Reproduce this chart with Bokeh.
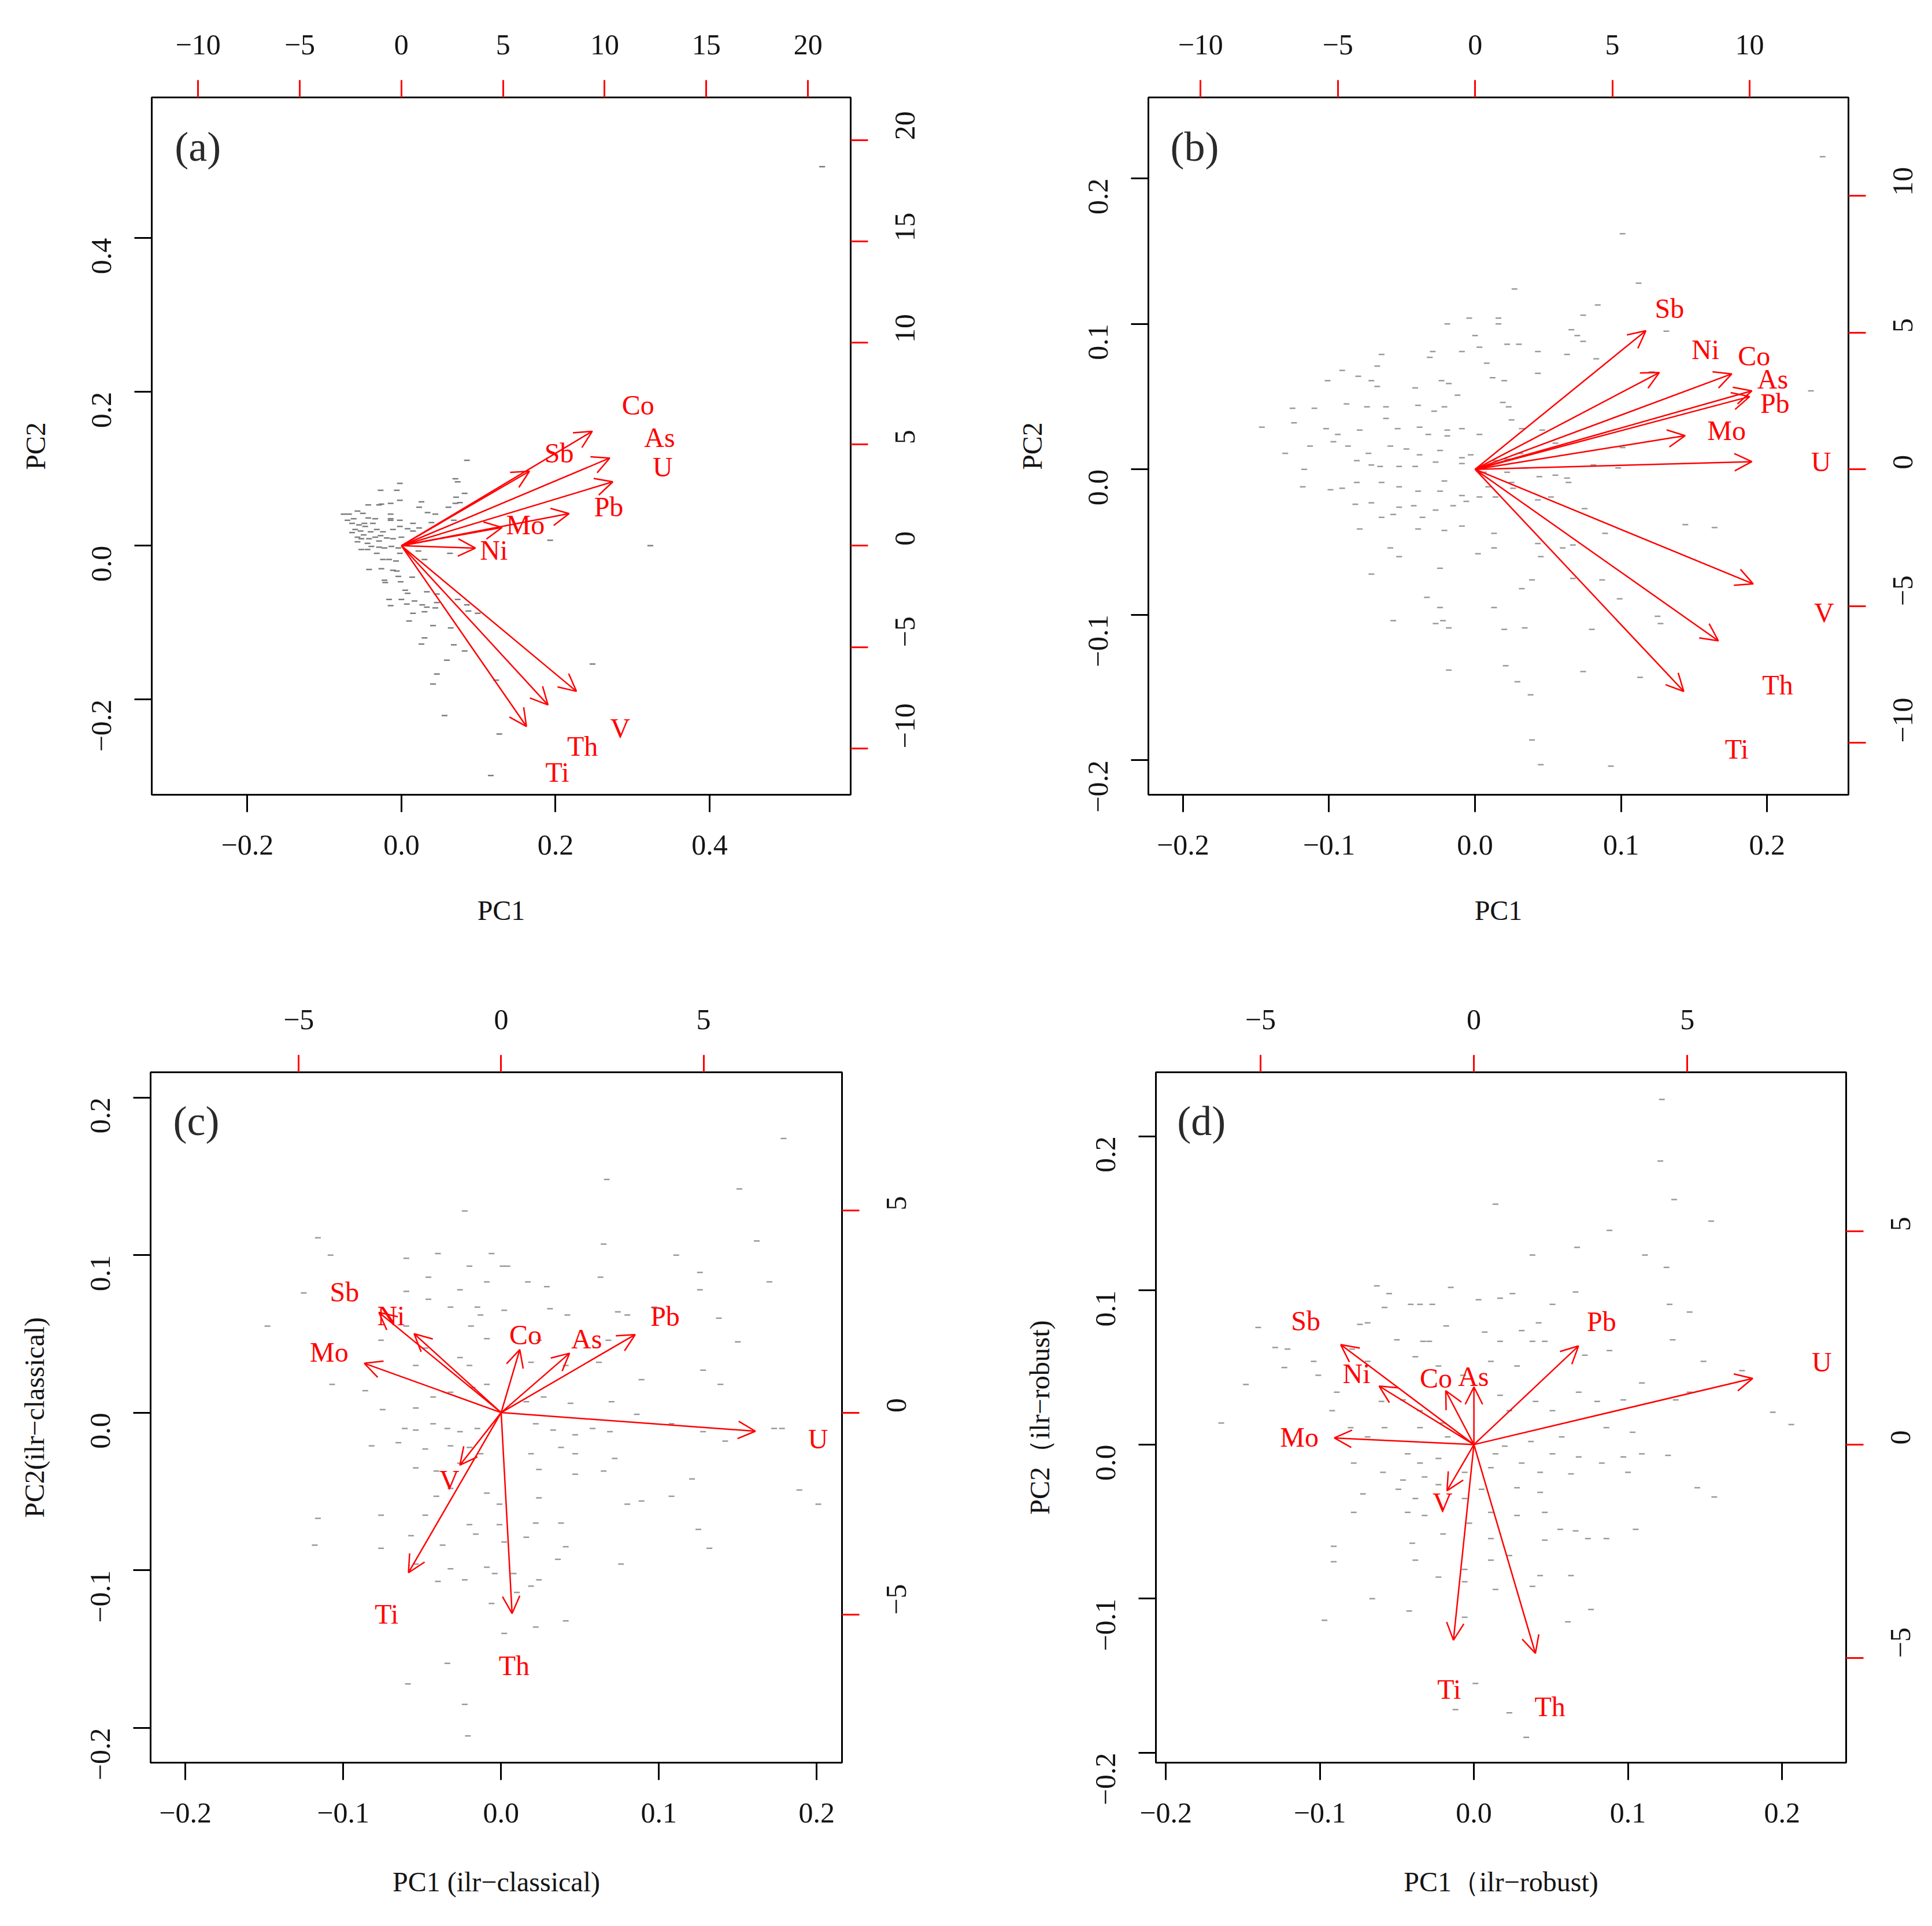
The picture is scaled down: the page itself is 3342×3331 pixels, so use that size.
import math
from bokeh.plotting import figure
from bokeh.models import (Range1d, LinearAxis, FixedTicker, CustomJSTickFormatter,
                          Arrow, OpenHead, ColumnDataSource, Label)
from bokeh.layouts import column, row
from bokeh.embed import file_html
from bokeh.resources import INLINE
from bokeh.core.properties import value

FONT = "Liberation Serif"
RED = "#ff0000"

# ---------------- data ----------------
# panel (a) PC1/PC2
lim_a = [-0.324, 0.583]
load_lim_a = [-12.28, 22.10]
score_ticks_a = [-0.2, 0.0, 0.2, 0.4]
load_ticks_a = [-10, -5, 0, 5, 10, 15, 20]
elements_a = ["Sb", "Co", "As", "U", "Pb", "Mo", "Ni", "V", "Th", "Ti"]
label_x_a = [7.76, 11.64, 12.70, 12.85, 10.20, 6.10, 4.55, 10.76, 8.91, 7.67]
label_y_a = [4.58, 6.94, 5.33, 3.88, 1.92, 1.02, -0.21, -9.00, -9.88, -11.18]
arrow_x_a = [6.30, 9.39, 10.25, 10.40, 8.25, 4.95, 3.64, 8.61, 7.21, 6.15]
arrow_y_a = [3.67, 5.64, 4.32, 3.15, 1.58, 0.90, -0.12, -7.18, -7.85, -8.91]
scores_x_a = [0.085, -0.002, -0.027, -0.006, 0.070, 0.073, 0.082, 0.071, 0.026, -0.002,
              -0.014, -0.026, -0.043, -0.029, 0.061, 0.070, 0.076, 0.023, 0.034, 0.044,
              -0.014, -0.068, -0.075, -0.057, -0.050, -0.043, -0.034, -0.014, -0.002, 0.015,
              0.015, 0.008, 0.023, 0.039, 0.068, -0.064, -0.055, -0.048, -0.070, -0.060,
              -0.053, -0.040, -0.032, -0.024, -0.011, -0.002, -0.057, -0.049, -0.042, -0.034,
              -0.027, -0.019, -0.011, 0.000, -0.057, -0.044, -0.039, -0.029, -0.022, -0.013,
              -0.004, -0.052, -0.032, -0.024, -0.016, -0.007, -0.002, 0.022, 0.030, 0.063,
              0.193, -0.042, -0.026, -0.011, -0.006, -0.004, 0.014, -0.022, -0.021, -0.001,
              0.005, 0.008, -0.016, 0.000, 0.007, 0.017, -0.014, 0.027, 0.033, 0.044,
              0.015, 0.030, 0.046, 0.033, 0.046, 0.073, 0.085, 0.087, 0.099, 0.010,
              0.041, 0.064, 0.030, 0.026, 0.068, 0.082, 0.059, 0.046, 0.041, 0.123,
              0.248, 0.056, 0.127, 0.116, -0.062, -0.047, -0.037, -0.029, -0.044, -0.014,
              -0.064, -0.052, 0.546, 0.323]
scores_y_a = [0.111, 0.081, 0.072, 0.072, 0.087, 0.083, 0.068, 0.063, 0.057, 0.059,
              0.055, 0.054, 0.053, 0.053, 0.050, 0.055, 0.056, 0.050, 0.043, 0.041,
              0.041, 0.041, 0.041, 0.045, 0.042, 0.036, 0.035, 0.035, 0.033, 0.029,
              0.019, 0.022, 0.023, 0.030, 0.033, 0.029, 0.027, 0.029, 0.033, 0.021,
              0.019, 0.018, 0.021, 0.018, 0.021, 0.025, 0.011, 0.014, 0.009, 0.011,
              0.013, 0.010, 0.009, 0.011, 0.005, 0.003, -0.001, -0.002, -0.003, -0.001,
              -0.003, -0.005, -0.010, -0.018, -0.018, -0.020, -0.010, -0.007, -0.018, -0.010,
              0.007, -0.031, -0.030, -0.032, -0.033, -0.040, -0.041, -0.045, -0.048, -0.047,
              -0.058, -0.062, -0.070, -0.070, -0.076, -0.072, -0.078, -0.077, -0.080, -0.081,
              -0.088, -0.086, -0.074, -0.060, -0.063, -0.070, -0.077, -0.085, -0.088, -0.098,
              -0.104, -0.107, -0.120, -0.128, -0.129, -0.137, -0.149, -0.167, -0.180, -0.175,
              -0.154, -0.221, -0.245, -0.299, 0.035, 0.025, 0.029, 0.006, -0.005, 0.033,
              0.017, 0.009, 0.493, 0.000]

# panel (b) PC1/PC2
lim_b = [-0.2237, 0.2557]
load_lim_b = [-11.90, 13.60]
score_ticks_b = [-0.2, -0.1, 0.0, 0.1, 0.2]
load_ticks_b = [-10, -5, 0, 5, 10]
elements_b = ["Sb", "Ni", "Co", "As", "Pb", "Mo", "U", "V", "Th", "Ti"]
label_x_b = [7.08, 8.39, 10.16, 10.84, 10.92, 9.16, 12.60, 12.71, 11.02, 9.53]
label_y_b = [5.88, 4.38, 4.14, 3.31, 2.42, 1.43, 0.28, -5.24, -7.89, -10.23]
arrow_x_b = [6.22, 6.71, 9.35, 10.08, 10.00, 7.65, 10.08, 10.13, 8.86, 7.60]
arrow_y_b = [5.07, 3.54, 3.49, 2.87, 2.66, 1.23, 0.28, -4.19, -6.27, -8.12]
scores_x_b = [0.238, 0.101, 0.027, 0.112, 0.084, 0.074, -0.004, 0.016, -0.019, 0.000,
              0.016, 0.066, 0.131, 0.070, 0.074, 0.022, 0.030, 0.003, -0.029, -0.064,
              -0.009, 0.043, 0.063, 0.083, -0.031, 0.008, -0.067, -0.091, -0.101, -0.080,
              -0.071, -0.067, -0.023, -0.018, -0.012, -0.041, 0.012, 0.020, 0.043, 0.121,
              0.230, -0.125, -0.110, -0.088, -0.074, -0.061, -0.039, -0.028, -0.021, 0.019,
              0.023, -0.146, -0.124, -0.102, -0.094, -0.079, -0.061, -0.053, -0.038, -0.032,
              -0.019, -0.019, -0.009, 0.003, 0.025, 0.032, 0.046, -0.130, -0.113, -0.097,
              -0.087, -0.073, -0.058, -0.047, -0.038, -0.024, -0.009, -0.003, 0.014, 0.022,
              0.031, 0.055, 0.101, -0.117, -0.081, -0.071, -0.065, -0.052, -0.041, -0.027,
              -0.021, -0.009, 0.006, 0.022, 0.034, 0.055, 0.063, 0.081, 0.098, -0.118,
              -0.099, -0.091, -0.081, -0.064, -0.052, -0.039, -0.024, -0.009, 0.009, 0.025,
              0.044, 0.064, -0.082, -0.071, -0.056, -0.052, -0.042, -0.036, -0.027, -0.015,
              -0.006, 0.003, 0.014, 0.026, 0.043, 0.052, 0.075, 0.144, 0.164, -0.079,
              -0.064, -0.039, -0.021, -0.009, 0.013, 0.043, 0.060, 0.067, 0.089, -0.071,
              -0.058, -0.052, -0.024, 0.002, 0.013, 0.045, 0.067, 0.087, 0.099, 0.032,
              -0.033, -0.024, 0.013, 0.039, -0.056, -0.027, -0.018, -0.022, 0.020, 0.034,
              0.080, 0.125, 0.127, -0.018, 0.021, 0.074, 0.029, 0.038, 0.113, 0.039,
              0.045, 0.093]
scores_y_b = [0.215, 0.162, 0.124, 0.128, 0.113, 0.106, 0.104, 0.104, 0.100, 0.092,
              0.100, 0.096, 0.095, 0.092, 0.088, 0.086, 0.086, 0.084, 0.081, 0.079,
              0.081, 0.081, 0.079, 0.076, 0.077, 0.073, 0.071, 0.068, 0.061, 0.064,
              0.061, 0.057, 0.061, 0.059, 0.051, 0.056, 0.063, 0.061, 0.066, 0.067,
              0.054, 0.042, 0.042, 0.045, 0.043, 0.043, 0.044, 0.040, 0.043, 0.046,
              0.043, 0.029, 0.032, 0.028, 0.024, 0.027, 0.035, 0.028, 0.029, 0.024,
              0.027, 0.023, 0.028, 0.024, 0.034, 0.028, 0.027, 0.011, 0.016, 0.019,
              0.016, 0.011, 0.016, 0.014, 0.010, 0.013, 0.008, 0.010, 0.006, 0.007,
              0.011, 0.018, 0.015, 0.000, 0.006, 0.003, 0.002, 0.002, 0.002, 0.005,
              -0.008, 0.004, -0.002, -0.002, 0.001, -0.004, -0.006, 0.003, 0.001, -0.012,
              -0.014, -0.013, -0.009, -0.009, -0.012, -0.015, -0.015, -0.018, -0.012, -0.009,
              -0.005, -0.009, -0.024, -0.023, -0.031, -0.026, -0.025, -0.033, -0.028, -0.025,
              -0.022, -0.019, -0.019, -0.013, -0.021, -0.019, -0.027, -0.038, -0.040, -0.041,
              -0.033, -0.041, -0.042, -0.039, -0.044, -0.051, -0.054, -0.052, -0.044, -0.072,
              -0.054, -0.060, -0.068, -0.058, -0.054, -0.060, -0.075, -0.076, -0.089, -0.082,
              -0.088, -0.095, -0.095, -0.076, -0.104, -0.106, -0.109, -0.104, -0.110, -0.109,
              -0.110, -0.101, -0.106, -0.138, -0.135, -0.139, -0.146, -0.155, -0.143, -0.186,
              -0.203, -0.204]

# panel (c) ilr-classical
lim_c = [-0.222, 0.216]
load_lim_c = [-8.66, 8.42]
score_ticks_c = [-0.2, -0.1, 0.0, 0.1, 0.2]
load_ticks_c = [-5, 0, 5]
elements_c = ["Sb", "Ni", "Mo", "Co", "As", "Pb", "U", "V", "Ti", "Th"]
label_x_c = [-3.87, -2.72, -4.25, 0.60, 2.11, 4.05, 7.83, -1.28, -2.83, 0.32]
label_y_c = [2.99, 2.40, 1.49, 1.93, 1.82, 2.39, -0.65, -1.66, -4.99, -6.25]
arrow_x_c = [-3.02, -2.15, -3.38, 0.46, 1.69, 3.31, 6.28, -1.02, -2.29, 0.27]
arrow_y_c = [2.48, 1.95, 1.22, 1.56, 1.47, 1.93, -0.46, -1.30, -3.96, -4.97]
scores_x_c = [0.179, 0.067, 0.151, -0.023, -0.116, 0.065, 0.162, -0.108, -0.060, -0.040,
              -0.006, 0.111, -0.020, 0.001, 0.004, -0.046, -0.009, 0.017, 0.063, 0.126,
              0.170, -0.125, -0.060, -0.046, -0.026, 0.029, 0.126, -0.032, -0.015, 0.002,
              0.031, 0.097, 0.074, 0.080, -0.148, -0.060, -0.013, -0.019, 0.042, 0.138,
              -0.076, -0.048, -0.009, 0.024, 0.068, 0.150, -0.107, -0.086, -0.054, -0.026,
              -0.020, 0.019, 0.041, 0.062, 0.089, 0.128, 0.139, -0.075, -0.054, -0.043,
              -0.032, -0.018, -0.009, 0.016, 0.027, 0.044, 0.070, 0.086, 0.108, 0.128,
              0.173, 0.178, -0.061, -0.054, -0.043, -0.034, -0.026, -0.015, 0.022, 0.033,
              0.047, 0.058, 0.069, 0.142, -0.082, -0.065, -0.048, -0.032, -0.020, -0.013,
              0.019, 0.038, 0.047, 0.072, -0.054, -0.041, -0.026, 0.024, 0.047, 0.065,
              0.121, 0.189, 0.201, -0.032, -0.041, -0.009, -0.001, 0.024, 0.080, 0.089,
              0.108, -0.116, -0.076, -0.048, -0.020, -0.001, 0.022, 0.038, 0.125, -0.118,
              -0.076, -0.057, -0.037, -0.016, 0.002, 0.016, 0.041, 0.076, 0.132, -0.054,
              -0.032, -0.009, -0.004, 0.008, 0.024, 0.036, -0.040, -0.023, 0.010, 0.019,
              -0.006, 0.022, 0.041, 0.002, -0.034, -0.059, -0.023, -0.021]
scores_y_c = [0.174, 0.148, 0.142, 0.128, 0.111, 0.107, 0.109, 0.100, 0.098, 0.101,
              0.101, 0.100, 0.093, 0.093, 0.093, 0.086, 0.083, 0.083, 0.086, 0.089,
              0.083, 0.076, 0.077, 0.072, 0.078, 0.080, 0.078, 0.067, 0.067, 0.065,
              0.066, 0.067, 0.064, 0.062, 0.055, 0.055, 0.062, 0.055, 0.062, 0.060,
              0.046, 0.041, 0.047, 0.046, 0.046, 0.045, 0.018, 0.014, 0.030, 0.035,
              0.030, 0.032, 0.030, 0.032, 0.021, 0.027, 0.018, 0.002, 0.003, 0.010,
              0.013, 0.016, 0.018, 0.007, 0.010, 0.006, 0.007, -0.001, -0.007, -0.012,
              -0.010, -0.010, -0.010, -0.011, -0.007, -0.010, -0.012, -0.010, -0.007, -0.011,
              -0.014, -0.010, -0.012, -0.018, -0.021, -0.019, -0.023, -0.021, -0.022, -0.026,
              -0.026, -0.022, -0.026, -0.029, -0.035, -0.037, -0.032, -0.036, -0.039, -0.037,
              -0.042, -0.049, -0.058, -0.048, -0.053, -0.051, -0.058, -0.054, -0.058, -0.056,
              -0.053, -0.067, -0.065, -0.065, -0.071, -0.071, -0.070, -0.070, -0.074, -0.084,
              -0.086, -0.078, -0.084, -0.077, -0.082, -0.079, -0.085, -0.096, -0.086, -0.096,
              -0.099, -0.098, -0.102, -0.102, -0.106, -0.093, -0.107, -0.106, -0.114, -0.110,
              -0.121, -0.136, -0.132, -0.140, -0.159, -0.172, -0.185, -0.205]

# panel (d) ilr-robust
lim_d = [-0.2064, 0.2416]
load_lim_d = [-7.45, 8.72]
score_ticks_d = [-0.2, -0.1, 0.0, 0.1, 0.2]
load_ticks_d = [-5, 0, 5]
elements_d = ["Sb", "Ni", "Co", "As", "Pb", "U", "Mo", "V", "Ti", "Th"]
label_x_d = [-3.94, -2.75, -0.89, -0.01, 2.99, 8.15, -4.09, -0.735, -0.58, 1.78]
label_y_d = [2.90, 1.66, 1.56, 1.60, 2.88, 1.93, 0.17, -1.35, -5.73, -6.13]
arrow_x_d = [-3.12, -2.22, -0.66, 0.00, 2.45, 6.53, -3.27, -0.63, -0.48, 1.44]
arrow_y_d = [2.34, 1.37, 1.26, 1.35, 2.31, 1.55, 0.155, -1.08, -4.58, -4.89]
scores_x_d = [0.122, 0.121, 0.130, 0.014, 0.154, 0.088, 0.067, 0.038, 0.111, 0.125,
              -0.063, -0.015, -0.055, 0.066, 0.025, 0.127, 0.140, -0.041, -0.035, -0.027,
              -0.058, 0.003, 0.017, 0.051, -0.074, -0.069, -0.050, -0.033, -0.029, -0.018,
              0.007, 0.031, 0.042, 0.046, 0.017, 0.088, 0.129, -0.140, -0.129, -0.121,
              -0.123, -0.104, -0.101, -0.148, -0.079, -0.069, -0.038, -0.023, -0.007, 0.011,
              0.028, 0.038, 0.072, 0.149, 0.174, 0.194, 0.206, -0.164, -0.089, -0.060,
              -0.046, -0.035, -0.020, 0.017, 0.023, 0.040, 0.051, 0.068, 0.080, 0.097,
              0.109, 0.131, 0.140, -0.118, -0.092, -0.080, -0.069, -0.058, -0.035, -0.017,
              0.020, 0.037, 0.057, 0.086, 0.103, -0.078, -0.043, -0.035, -0.023, 0.014,
              0.031, 0.051, 0.068, 0.083, 0.097, 0.109, 0.126, -0.059, -0.046, -0.032,
              -0.006, 0.011, 0.043, 0.063, 0.100, -0.072, -0.049, -0.038, -0.023, -0.006,
              0.005, 0.028, 0.043, 0.145, 0.156, -0.078, -0.043, -0.032, -0.003, 0.011,
              0.028, 0.046, 0.056, 0.066, 0.105, 0.086, -0.091, -0.040, -0.020, 0.011,
              0.046, 0.074, -0.091, -0.038, -0.023, -0.006, 0.011, 0.023, 0.043, 0.063,
              -0.066, -0.042, -0.006, 0.014, 0.038, 0.061, 0.076, -0.097, 0.001, -0.012,
              0.023, 0.034, -0.006]
scores_y_d = [0.224, 0.184, 0.159, 0.156, 0.145, 0.139, 0.128, 0.123, 0.123, 0.115,
              0.103, 0.102, 0.098, 0.099, 0.098, 0.091, 0.086, 0.091, 0.091, 0.091,
              0.089, 0.094, 0.095, 0.091, 0.078, 0.079, 0.068, 0.067, 0.067, 0.077,
              0.073, 0.074, 0.079, 0.067, 0.067, 0.061, 0.068, 0.076, 0.063, 0.062,
              0.050, 0.054, 0.045, 0.039, 0.062, 0.054, 0.057, 0.051, 0.045, 0.054,
              0.051, 0.067, 0.058, 0.054, 0.048, 0.021, 0.013, 0.014, 0.034, 0.028,
              0.029, 0.022, 0.014, 0.032, 0.022, 0.028, 0.022, 0.034, 0.028, 0.029,
              0.040, 0.029, 0.034, 0.002, 0.022, 0.011, 0.005, 0.011, 0.011, 0.005,
              -0.001, 0.002, 0.005, 0.011, 0.008, -0.012, -0.006, -0.012, -0.009, -0.006,
              -0.012, -0.006, -0.008, -0.012, -0.008, -0.006, -0.007, -0.018, -0.023, -0.021,
              -0.018, -0.015, -0.018, -0.019, -0.018, -0.032, -0.029, -0.035, -0.026, -0.035,
              -0.029, -0.028, -0.031, -0.028, -0.034, -0.044, -0.044, -0.046, -0.051, -0.044,
              -0.046, -0.044, -0.055, -0.056, -0.055, -0.061, -0.066, -0.064, -0.058, -0.061,
              -0.062, -0.061, -0.076, -0.075, -0.086, -0.081, -0.075, -0.072, -0.085, -0.085,
              -0.100, -0.108, -0.089, -0.094, -0.092, -0.115, -0.107, -0.114, -0.155, -0.172,
              -0.174, -0.190, -0.112]

# ---------------- helpers ----------------
SCORE_FMT = "return (tick < 0 ? '\u2212' : '') + Math.abs(tick).toFixed(1);"
LOAD_FMT = "return (tick < 0 ? '\u2212' : '') + Math.abs(tick).toFixed(0);"


def style_axis(ax, ticks, code, tick_color, standoff, orientation=None):
    ax.ticker = FixedTicker(ticks=ticks)
    ax.formatter = CustomJSTickFormatter(code=code)
    ax.axis_line_color = None
    ax.major_tick_line_color = tick_color
    ax.major_tick_line_width = 3
    ax.major_tick_in = 0
    ax.major_tick_out = 30
    ax.minor_tick_line_color = None
    ax.major_label_text_font = FONT
    ax.major_label_text_font_size = "50px"
    ax.major_label_text_color = "#141414"
    ax.major_label_standoff = standoff
    if orientation is not None:
        ax.major_label_orientation = orientation


def style_label(ax, text, standoff):
    ax.axis_label = text
    ax.axis_label_text_font = FONT
    ax.axis_label_text_font_size = "48px"
    ax.axis_label_text_font_style = "normal"
    ax.axis_label_text_color = "#141414"
    ax.axis_label_standoff = standoff


def make_panel(tag, lim, llim, sticks, lticks, sx, sy, names, lx, ly, ax_, ay_,
               xlabel, ylabel, fw, fh, bl, br, bt, bb, pt_color, xlab_off, ylab_off):
    p = figure(frame_width=fw, frame_height=fh,
               min_border_left=bl, min_border_right=br,
               min_border_top=bt, min_border_bottom=bb,
               x_range=Range1d(lim[0], lim[1]), y_range=Range1d(lim[0], lim[1]),
               output_backend="svg", toolbar_location=None,
               background_fill_color="white", border_fill_color="white")
    p.extra_x_ranges = {"lx": Range1d(llim[0], llim[1])}
    p.extra_y_ranges = {"ly": Range1d(llim[0], llim[1])}
    p.xgrid.grid_line_color = None
    p.ygrid.grid_line_color = None
    p.outline_line_color = "black"
    p.outline_line_width = 3
    p.outline_line_alpha = 1.0

    style_axis(p.xaxis[0], sticks, SCORE_FMT, "black", 40)
    style_axis(p.yaxis[0], sticks, SCORE_FMT, "black", 57, math.pi / 2)
    style_label(p.xaxis[0], xlabel, xlab_off)
    style_label(p.yaxis[0], ylabel, ylab_off)

    top = LinearAxis(x_range_name="lx")
    style_axis(top, lticks, LOAD_FMT, RED, 45)
    p.add_layout(top, "above")
    right = LinearAxis(y_range_name="ly")
    style_axis(right, lticks, LOAD_FMT, RED, 64, math.pi / 2)
    p.add_layout(right, "right")

    # observations
    p.scatter(sx, sy, marker="dash", size=10, line_color=pt_color, line_width=2.5)

    # variable arrows
    n = len(ax_)
    src = ColumnDataSource(dict(x0=[0.0] * n, y0=[0.0] * n, x1=ax_, y1=ay_))
    arr = Arrow(end=OpenHead(size=30, line_color=RED, line_width=2.5),
                x_start="x0", y_start="y0", x_end="x1", y_end="y1", source=src,
                line_color=RED, line_width=2.5,
                x_range_name="lx", y_range_name="ly")
    p.add_layout(arr)

    p.text(x=lx, y=ly, text=names, x_range_name="lx", y_range_name="ly",
           text_font=value(FONT), text_font_size="48px", text_color=RED,
           text_align="center", text_baseline="middle")

    span = lim[1] - lim[0]
    p.add_layout(Label(x=lim[0] + 0.066 * span, y=lim[1] - 0.071 * span, text=tag,
                       text_font=FONT, text_font_size="72px", text_color="#2a2a2a",
                       text_align="center", text_baseline="middle"))
    return p


pa = make_panel("(a)", lim_a, load_lim_a, score_ticks_a, load_ticks_a,
                scores_x_a, scores_y_a, elements_a, label_x_a, label_y_a,
                arrow_x_a, arrow_y_a, "PC1", "PC2",
                1209, 1206, 262, 200, 168, 291, "#7c7c7c", 67, 52)
pb = make_panel("(b)", lim_b, load_lim_b, score_ticks_b, load_ticks_b,
                scores_x_b, scores_y_b, elements_b, label_x_b, label_y_b,
                arrow_x_b, arrow_y_b, "PC1", "PC2",
                1211, 1206, 315, 145, 168, 291, "#9a9a9a", 67, 52)
pc = make_panel("(c)", lim_c, load_lim_c, score_ticks_c, load_ticks_c,
                scores_x_c, scores_y_c, elements_c, label_x_c, label_y_c,
                arrow_x_c, arrow_y_c, "PC1 (ilr\u2212classical)", "PC2(ilr\u2212classical)",
                1196, 1194, 260, 215, 189, 275, "#9a9a9a", 73, 52)
pd = make_panel("(d)", lim_d, load_lim_d, score_ticks_d, load_ticks_d,
                scores_x_d, scores_y_d, elements_d, label_x_d, label_y_d,
                arrow_x_d, arrow_y_d, "PC1\uff08ilr\u2212robust)", "PC2\uff08ilr\u2212robust)",
                1194, 1194, 328, 149, 189, 275, "#9a9a9a", 73, 52)

layout = column(row(pa, pb), row(pc, pd))
open("out.html", "w").write(file_html(layout, INLINE))
